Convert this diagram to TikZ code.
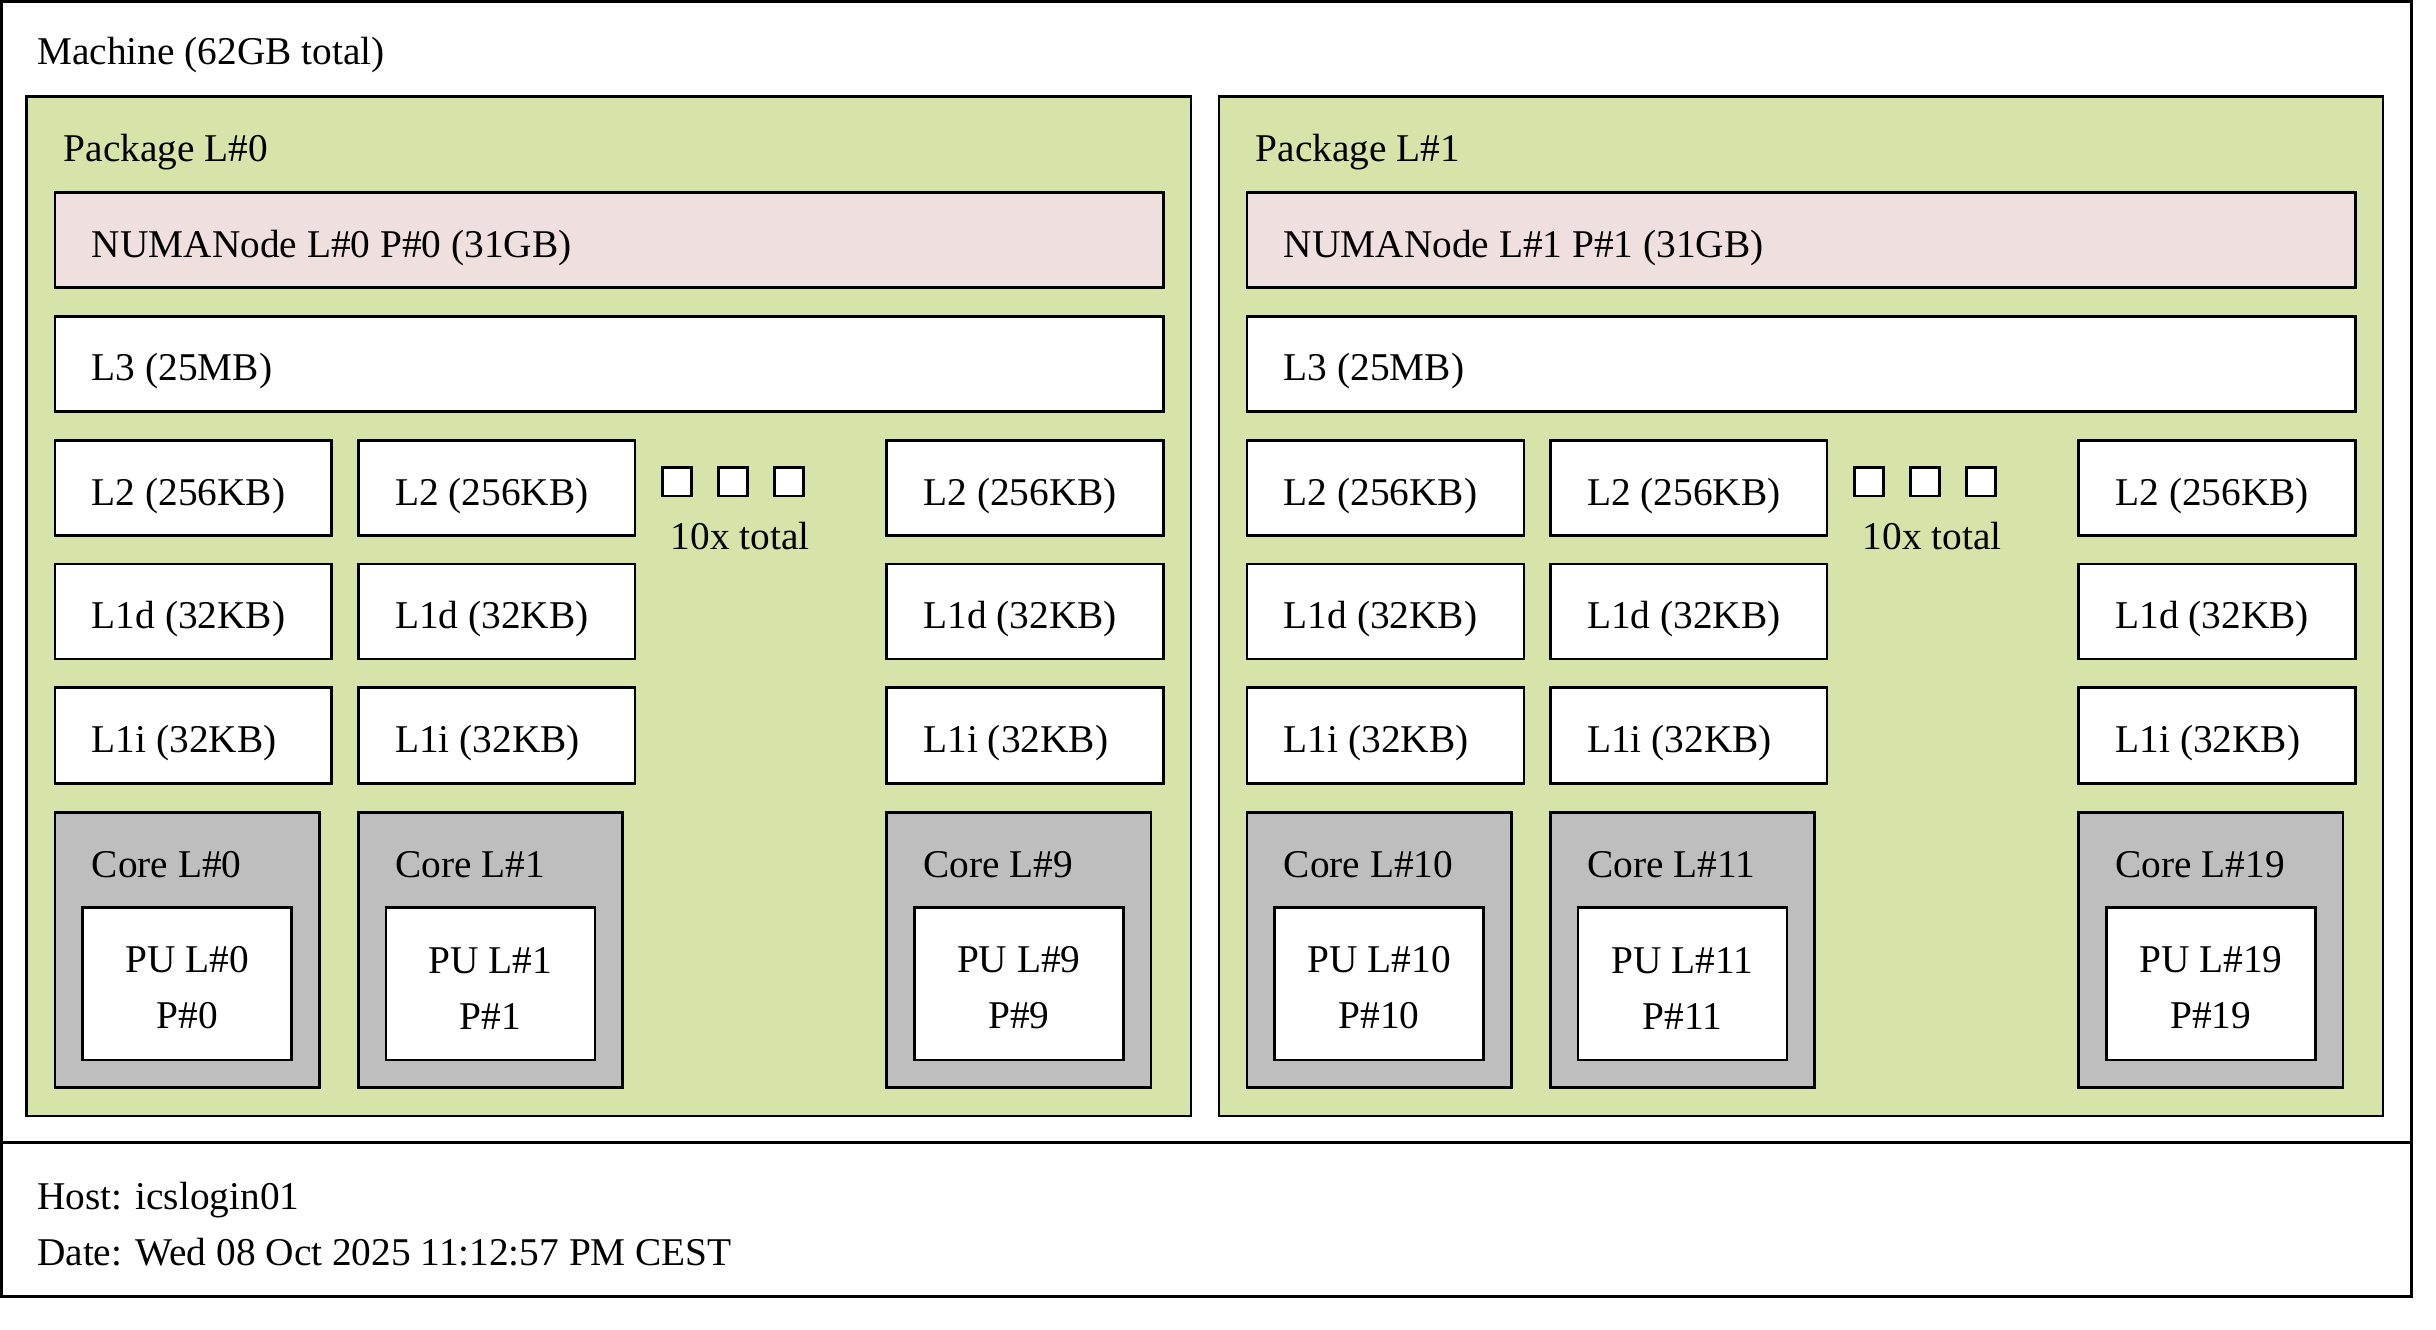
\documentclass[tikz,border=0pt]{standalone}
\usepackage{fontspec}
\setmainfont{Liberation Serif}
\definecolor{pkggreen}{RGB}{214,228,170}
\definecolor{numapink}{RGB}{239,223,222}
\definecolor{coregray}{RGB}{190,190,190}
\begin{document}
\begin{tikzpicture}[x=0.466pt,y=0.466pt,yscale=-1,xscale=1,
    font=\fontsize{11.8}{16.8}\selectfont,
    box/.style={draw=black, line width=0.75pt},
    machinebox/.style={box, fill=white},
    pkgbox/.style={box, fill=pkggreen},
    numabox/.style={box, fill=numapink},
    cachebox/.style={box, fill=white},
    corebox/.style={box, fill=coregray},
    pubox/.style={box, fill=white},
    dotbox/.style={box, fill=white},
    lbl/.style={anchor=base west, inner sep=0pt},
    cntlbl/.style={anchor=base, inner sep=0pt},
    pulbl/.style={anchor=center, inner sep=0pt, align=center}]
        \useasboundingbox (0,0) rectangle (1568,856);
        %Shape: Rectangle [machine]
        \draw [machinebox] (0.9,0.9) -- (1552.3,0.9) -- (1552.3,735.5) -- (0.9,735.5) -- cycle ;
        %Shape: Rectangle [legend]
        \draw [machinebox] (0.9,735.5) -- (1552.3,735.5) -- (1552.3,834.5) -- (0.9,834.5) -- cycle ;
        % Text Node
        \draw (23.5,41.8) node (machine) [lbl] {Machine (62GB total)};
        % Text Node
        \draw (23.5,778.7) node (host) [lbl] {Host: icslogin01};
        % Text Node
        \draw (23.5,814.4) node (date) [lbl] {Date: Wed 08 Oct 2025 11:12:57 PM CEST};
        %
        % ---- Package L#0 ----
        %Shape: Rectangle [package 0]
        \draw [pkgbox] (17.2,62.2) -- (766.6,62.2) -- (766.6,718.3) -- (17.2,718.3) -- cycle ;
        %Shape: Rectangle [numa 0]
        \draw [numabox] (35.4,124) -- (748.8,124) -- (748.8,185) -- (35.4,185) -- cycle ;
        %Shape: Rectangle [L3]
        \draw [cachebox] (35.4,203.6) -- (748.8,203.6) -- (748.8,265) -- (35.4,265) -- cycle ;
        %Shape: Rectangle [L2]
        \draw [cachebox] (35.4,283.6) -- (213.5,283.6) -- (213.5,344.8) -- (35.4,344.8) -- cycle ;
        \draw [cachebox] (230.6,283.6) -- (408.7,283.6) -- (408.7,344.8) -- (230.6,344.8) -- cycle ;
        \draw [cachebox] (570.7,283.6) -- (748.8,283.6) -- (748.8,344.8) -- (570.7,344.8) -- cycle ;
        %Shape: Rectangle [L1d]
        \draw [cachebox] (35.4,363) -- (213.5,363) -- (213.5,424.2) -- (35.4,424.2) -- cycle ;
        \draw [cachebox] (230.6,363) -- (408.7,363) -- (408.7,424.2) -- (230.6,424.2) -- cycle ;
        \draw [cachebox] (570.7,363) -- (748.8,363) -- (748.8,424.2) -- (570.7,424.2) -- cycle ;
        %Shape: Rectangle [L1i]
        \draw [cachebox] (35.4,442.6) -- (213.5,442.6) -- (213.5,504.2) -- (35.4,504.2) -- cycle ;
        \draw [cachebox] (230.6,442.6) -- (408.7,442.6) -- (408.7,504.2) -- (230.6,504.2) -- cycle ;
        \draw [cachebox] (570.7,442.6) -- (748.8,442.6) -- (748.8,504.2) -- (570.7,504.2) -- cycle ;
        %Shape: Rectangle [dots]
        \draw [dotbox] (426.3,301) -- (445,301) -- (445,319.3) -- (426.3,319.3) -- cycle ;
        \draw [dotbox] (462.4,301) -- (481.1,301) -- (481.1,319.3) -- (462.4,319.3) -- cycle ;
        \draw [dotbox] (498.4,301) -- (517.2,301) -- (517.2,319.3) -- (498.4,319.3) -- cycle ;
        %Shape: Rectangle [cores]
        \draw [corebox] (35.4,522.9) -- (205.5,522.9) -- (205.5,700) -- (35.4,700) -- cycle ;
        \draw [corebox] (230.6,522.9) -- (400.7,522.9) -- (400.7,700) -- (230.6,700) -- cycle ;
        \draw [corebox] (570.7,522.9) -- (740.8,522.9) -- (740.8,700) -- (570.7,700) -- cycle ;
        %Shape: Rectangle [PUs]
        \draw [pubox] (53.2,584.2) -- (187.7,584.2) -- (187.7,682.3) -- (53.2,682.3) -- cycle ;
        \draw [pubox] (248.4,584.2) -- (382.9,584.2) -- (382.9,682.3) -- (248.4,682.3) -- cycle ;
        \draw [pubox] (588.5,584.2) -- (723,584.2) -- (723,682.3) -- (588.5,682.3) -- cycle ;
        % Text Node
        \draw (40.7,104) node (pkg0) [lbl] {Package L\#0};
        \draw (58.7,165.6) node (numa0) [lbl] {NUMANode L\#0 P\#0 (31GB)};
        \draw (58.7,245.2) node (lthree0) [lbl] {L3 (25MB)};
        \draw (58.7,325.2) node (ltwoa) [lbl] {L2 (256KB)};
        \draw (253.9,325.2) node (ltwob) [lbl] {L2 (256KB)};
        \draw (594,325.2) node (ltwoj) [lbl] {L2 (256KB)};
        \draw (476.4,353.4) node (count0) [cntlbl] {10x total};
        \draw (58.7,404.6) node (lda) [lbl] {L1d (32KB)};
        \draw (253.9,404.6) node (ldb) [lbl] {L1d (32KB)};
        \draw (594,404.6) node (ldj) [lbl] {L1d (32KB)};
        \draw (58.7,484.2) node (lia) [lbl] {L1i (32KB)};
        \draw (253.9,484.2) node (lib) [lbl] {L1i (32KB)};
        \draw (594,484.2) node (lij) [lbl] {L1i (32KB)};
        \draw (58.7,564.7) node (core0) [lbl] {Core L\#0};
        \draw (253.9,564.7) node (core1) [lbl] {Core L\#1};
        \draw (594,564.7) node (core9) [lbl] {Core L\#9};
        \draw (120.45,636) node (pu0) [pulbl] {PU L\#0\\P\#0};
        \draw (315.65,636) node (pu1) [pulbl] {PU L\#1\\P\#1};
        \draw (655.75,636) node (pu9) [pulbl] {PU L\#9\\P\#9};
        %
        % ---- Package L#1 ----
        %Shape: Rectangle [package 1]
        \draw [pkgbox] (784.5,62.2) -- (1533.9,62.2) -- (1533.9,718.3) -- (784.5,718.3) -- cycle ;
        %Shape: Rectangle [numa 1]
        \draw [numabox] (802.7,124) -- (1516.1,124) -- (1516.1,185) -- (802.7,185) -- cycle ;
        %Shape: Rectangle [L3]
        \draw [cachebox] (802.7,203.6) -- (1516.1,203.6) -- (1516.1,265) -- (802.7,265) -- cycle ;
        %Shape: Rectangle [L2]
        \draw [cachebox] (802.7,283.6) -- (980.8,283.6) -- (980.8,344.8) -- (802.7,344.8) -- cycle ;
        \draw [cachebox] (997.9,283.6) -- (1176,283.6) -- (1176,344.8) -- (997.9,344.8) -- cycle ;
        \draw [cachebox] (1338,283.6) -- (1516.1,283.6) -- (1516.1,344.8) -- (1338,344.8) -- cycle ;
        %Shape: Rectangle [L1d]
        \draw [cachebox] (802.7,363) -- (980.8,363) -- (980.8,424.2) -- (802.7,424.2) -- cycle ;
        \draw [cachebox] (997.9,363) -- (1176,363) -- (1176,424.2) -- (997.9,424.2) -- cycle ;
        \draw [cachebox] (1338,363) -- (1516.1,363) -- (1516.1,424.2) -- (1338,424.2) -- cycle ;
        %Shape: Rectangle [L1i]
        \draw [cachebox] (802.7,442.6) -- (980.8,442.6) -- (980.8,504.2) -- (802.7,504.2) -- cycle ;
        \draw [cachebox] (997.9,442.6) -- (1176,442.6) -- (1176,504.2) -- (997.9,504.2) -- cycle ;
        \draw [cachebox] (1338,442.6) -- (1516.1,442.6) -- (1516.1,504.2) -- (1338,504.2) -- cycle ;
        %Shape: Rectangle [dots]
        \draw [dotbox] (1193.6,301) -- (1212.3,301) -- (1212.3,319.3) -- (1193.6,319.3) -- cycle ;
        \draw [dotbox] (1229.7,301) -- (1248.4,301) -- (1248.4,319.3) -- (1229.7,319.3) -- cycle ;
        \draw [dotbox] (1265.7,301) -- (1284.5,301) -- (1284.5,319.3) -- (1265.7,319.3) -- cycle ;
        %Shape: Rectangle [cores]
        \draw [corebox] (802.7,522.9) -- (972.8,522.9) -- (972.8,700) -- (802.7,700) -- cycle ;
        \draw [corebox] (997.9,522.9) -- (1168,522.9) -- (1168,700) -- (997.9,700) -- cycle ;
        \draw [corebox] (1338,522.9) -- (1508.1,522.9) -- (1508.1,700) -- (1338,700) -- cycle ;
        %Shape: Rectangle [PUs]
        \draw [pubox] (820.5,584.2) -- (955,584.2) -- (955,682.3) -- (820.5,682.3) -- cycle ;
        \draw [pubox] (1015.7,584.2) -- (1150.2,584.2) -- (1150.2,682.3) -- (1015.7,682.3) -- cycle ;
        \draw [pubox] (1355.8,584.2) -- (1490.3,584.2) -- (1490.3,682.3) -- (1355.8,682.3) -- cycle ;
        % Text Node
        \draw (808,104) node (pkg1) [lbl] {Package L\#1};
        \draw (826,165.6) node (numa1) [lbl] {NUMANode L\#1 P\#1 (31GB)};
        \draw (826,245.2) node (lthree1) [lbl] {L3 (25MB)};
        \draw (826,325.2) node (ltwok) [lbl] {L2 (256KB)};
        \draw (1021.2,325.2) node (ltwol) [lbl] {L2 (256KB)};
        \draw (1361.3,325.2) node (ltwot) [lbl] {L2 (256KB)};
        \draw (1243.7,353.4) node (count1) [cntlbl] {10x total};
        \draw (826,404.6) node (ldk) [lbl] {L1d (32KB)};
        \draw (1021.2,404.6) node (ldl) [lbl] {L1d (32KB)};
        \draw (1361.3,404.6) node (ldt) [lbl] {L1d (32KB)};
        \draw (826,484.2) node (lik) [lbl] {L1i (32KB)};
        \draw (1021.2,484.2) node (lil) [lbl] {L1i (32KB)};
        \draw (1361.3,484.2) node (lit) [lbl] {L1i (32KB)};
        \draw (826,564.7) node (core10) [lbl] {Core L\#10};
        \draw (1021.2,564.7) node (core11) [lbl] {Core L\#11};
        \draw (1361.3,564.7) node (core19) [lbl] {Core L\#19};
        \draw (887.75,636) node (pu10) [pulbl] {PU L\#10\\P\#10};
        \draw (1082.95,636) node (pu11) [pulbl] {PU L\#11\\P\#11};
        \draw (1423.05,636) node (pu19) [pulbl] {PU L\#19\\P\#19};
    \end{tikzpicture}
\end{document}
